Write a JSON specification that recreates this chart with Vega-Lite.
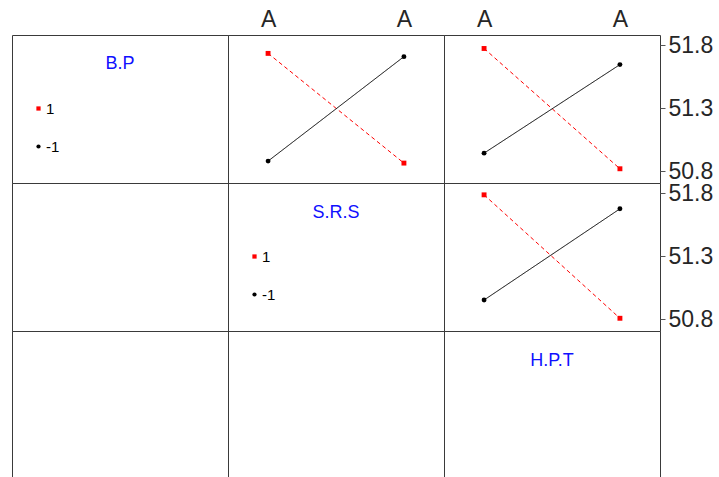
{
  "$schema": "https://vega.github.io/schema/vega-lite/v6.json",
  "padding": {"left": 11, "top": 7, "right": 0, "bottom": 0},
  "background": "white",
  "datasets": {
    "pts": [
      {"pair": "BP_SRS", "level": 1, "x": -1, "y": 51.734},
      {"pair": "BP_SRS", "level": 1, "x": 1, "y": 50.863},
      {"pair": "BP_SRS", "level": -1, "x": -1, "y": 50.879},
      {"pair": "BP_SRS", "level": -1, "x": 1, "y": 51.708},
      {"pair": "BP_HPT", "level": 1, "x": -1, "y": 51.773},
      {"pair": "BP_HPT", "level": 1, "x": 1, "y": 50.818},
      {"pair": "BP_HPT", "level": -1, "x": -1, "y": 50.942},
      {"pair": "BP_HPT", "level": -1, "x": 1, "y": 51.645},
      {"pair": "SRS_HPT", "level": 1, "x": -1, "y": 51.786},
      {"pair": "SRS_HPT", "level": 1, "x": 1, "y": 50.806},
      {"pair": "SRS_HPT", "level": -1, "x": -1, "y": 50.951},
      {"pair": "SRS_HPT", "level": -1, "x": 1, "y": 51.675}
    ]
  },
  "data": {"name": "pts"},
  "columns": 3,
  "spacing": 0,
  "bounds": "flush",
  "concat": [
    {
      "width": 216, "height": 148,
      "title": {"text": "B.P", "orient": "top", "anchor": "middle", "frame": "group", "baseline": "alphabetic", "offset": -35, "dy": 17, "fontSize": 18, "fontWeight": "normal", "color": "#1010ff", "font": "Liberation Sans"},
      "transform": [{"filter": "false"}],
      "mark": {"type": "point", "filled": true, "opacity": 1},
      "encoding": {
        "x": {"field": "x", "type": "quantitative", "scale": {"domain": [-1.59, 1.59]}, "axis": null},
        "y": {"field": "y", "type": "quantitative", "scale": {"domain": [50.705, 51.88], "zero": false, "nice": false}, "axis": null},
        "color": {"field": "level", "type": "nominal", "scale": {"domain": [1, -1], "range": ["#ff0000", "#000000"]}, "legend": {"orient": "none", "legendX": 19, "legendY": 66, "title": null, "labelFont": "Liberation Sans", "labelFontSize": 15, "labelOffset": 0, "rowPadding": 22}},
        "shape": {"field": "level", "type": "nominal", "scale": {"domain": [1, -1], "range": ["square", "circle"]}, "legend": {"orient": "none", "legendX": 19, "legendY": 66, "title": null, "labelFont": "Liberation Sans", "labelFontSize": 15, "labelOffset": 0, "rowPadding": 22}}
      }
    },
    {
      "width": 216, "height": 148,
      "transform": [{"filter": "datum.pair == 'BP_SRS'"}],
      "encoding": {
        "x": {"field": "x", "type": "quantitative", "scale": {"domain": [-1.59, 1.59]}, "axis": {"orient": "top", "values": [-1, 1], "labelExpr": "'A'", "ticks": false, "tickSize": 0, "labelPadding": 9, "labelBaseline": "alphabetic", "labelFlush": false, "title": null}},
        "y": {"field": "y", "type": "quantitative", "scale": {"domain": [50.705, 51.88], "zero": false, "nice": false}, "axis": null},
        "color": {"field": "level", "type": "nominal", "scale": {"domain": [1, -1], "range": ["#ff0000", "#000000"]}, "legend": null}
      },
      "layer": [
        {"mark": {"type": "line", "strokeWidth": 1}, "encoding": {"strokeDash": {"field": "level", "type": "nominal", "scale": {"domain": [1, -1], "range": [[4, 3], [1, 0]]}, "legend": null}}},
        {"mark": {"type": "point", "filled": true, "opacity": 1, "size": 24}, "encoding": {"shape": {"field": "level", "type": "nominal", "scale": {"domain": [1, -1], "range": ["square", "circle"]}, "legend": null}}}
      ]
    },
    {
      "width": 216, "height": 148,
      "transform": [{"filter": "datum.pair == 'BP_HPT'"}],
      "encoding": {
        "x": {"field": "x", "type": "quantitative", "scale": {"domain": [-1.59, 1.59]}, "axis": {"orient": "top", "values": [-1, 1], "labelExpr": "'A'", "ticks": false, "tickSize": 0, "labelPadding": 9, "labelBaseline": "alphabetic", "labelFlush": false, "title": null}},
        "y": {"field": "y", "type": "quantitative", "scale": {"domain": [50.705, 51.88], "zero": false, "nice": false}, "axis": {"orient": "right", "values": [50.8, 51.3, 51.8], "format": ".1f", "tickSize": 5, "labelPadding": 3, "title": null}},
        "color": {"field": "level", "type": "nominal", "scale": {"domain": [1, -1], "range": ["#ff0000", "#000000"]}, "legend": null}
      },
      "layer": [
        {"mark": {"type": "line", "strokeWidth": 1}, "encoding": {"strokeDash": {"field": "level", "type": "nominal", "scale": {"domain": [1, -1], "range": [[4, 3], [1, 0]]}, "legend": null}}},
        {"mark": {"type": "point", "filled": true, "opacity": 1, "size": 24}, "encoding": {"shape": {"field": "level", "type": "nominal", "scale": {"domain": [1, -1], "range": ["square", "circle"]}, "legend": null}}}
      ]
    },
    {
      "width": 216, "height": 148,
      "transform": [{"filter": "false"}],
      "mark": {"type": "point"},
      "encoding": {
        "x": {"field": "x", "type": "quantitative", "scale": {"domain": [-1.59, 1.59]}, "axis": null},
        "y": {"field": "y", "type": "quantitative", "scale": {"domain": [50.705, 51.88]}, "axis": null}
      }
    },
    {
      "width": 216, "height": 148,
      "title": {"text": "S.R.S", "orient": "top", "anchor": "middle", "frame": "group", "baseline": "alphabetic", "offset": -35, "dy": 18, "fontSize": 18, "fontWeight": "normal", "color": "#1010ff", "font": "Liberation Sans"},
      "transform": [{"filter": "false"}],
      "mark": {"type": "point", "filled": true, "opacity": 1},
      "encoding": {
        "x": {"field": "x", "type": "quantitative", "scale": {"domain": [-1.59, 1.59]}, "axis": null},
        "y": {"field": "y", "type": "quantitative", "scale": {"domain": [50.705, 51.88], "zero": false, "nice": false}, "axis": null},
        "color": {"field": "level", "type": "nominal", "scale": {"domain": [1, -1], "range": ["#ff0000", "#000000"]}, "legend": {"orient": "none", "legendX": 19, "legendY": 66, "title": null, "labelFont": "Liberation Sans", "labelFontSize": 15, "labelOffset": 0, "rowPadding": 22}},
        "shape": {"field": "level", "type": "nominal", "scale": {"domain": [1, -1], "range": ["square", "circle"]}, "legend": {"orient": "none", "legendX": 19, "legendY": 66, "title": null, "labelFont": "Liberation Sans", "labelFontSize": 15, "labelOffset": 0, "rowPadding": 22}}
      }
    },
    {
      "width": 216, "height": 148,
      "transform": [{"filter": "datum.pair == 'SRS_HPT'"}],
      "encoding": {
        "x": {"field": "x", "type": "quantitative", "scale": {"domain": [-1.59, 1.59]}, "axis": null},
        "y": {"field": "y", "type": "quantitative", "scale": {"domain": [50.705, 51.88], "zero": false, "nice": false}, "axis": {"orient": "right", "values": [50.8, 51.3, 51.8], "format": ".1f", "tickSize": 5, "labelPadding": 3, "title": null}},
        "color": {"field": "level", "type": "nominal", "scale": {"domain": [1, -1], "range": ["#ff0000", "#000000"]}, "legend": null}
      },
      "layer": [
        {"mark": {"type": "line", "strokeWidth": 1}, "encoding": {"strokeDash": {"field": "level", "type": "nominal", "scale": {"domain": [1, -1], "range": [[4, 3], [1, 0]]}, "legend": null}}},
        {"mark": {"type": "point", "filled": true, "opacity": 1, "size": 24}, "encoding": {"shape": {"field": "level", "type": "nominal", "scale": {"domain": [1, -1], "range": ["square", "circle"]}, "legend": null}}}
      ]
    },
    {
      "width": 216, "height": 148,
      "transform": [{"filter": "false"}],
      "mark": {"type": "point"},
      "encoding": {
        "x": {"field": "x", "type": "quantitative", "scale": {"domain": [-1.59, 1.59]}, "axis": null},
        "y": {"field": "y", "type": "quantitative", "scale": {"domain": [50.705, 51.88]}, "axis": null}
      }
    },
    {
      "width": 216, "height": 148,
      "transform": [{"filter": "false"}],
      "mark": {"type": "point"},
      "encoding": {
        "x": {"field": "x", "type": "quantitative", "scale": {"domain": [-1.59, 1.59]}, "axis": null},
        "y": {"field": "y", "type": "quantitative", "scale": {"domain": [50.705, 51.88]}, "axis": null}
      }
    },
    {
      "width": 216, "height": 148,
      "title": {"text": "H.P.T", "orient": "top", "anchor": "middle", "frame": "group", "baseline": "alphabetic", "offset": -35, "dy": 18, "fontSize": 18, "fontWeight": "normal", "color": "#1010ff", "font": "Liberation Sans"},
      "transform": [{"filter": "false"}],
      "mark": {"type": "point"},
      "encoding": {
        "x": {"field": "x", "type": "quantitative", "scale": {"domain": [-1.59, 1.59]}, "axis": null},
        "y": {"field": "y", "type": "quantitative", "scale": {"domain": [50.705, 51.88]}, "axis": null}
      }
    }
  ],
  "resolve": {
    "scale": {"x": "independent", "y": "independent", "color": "independent", "shape": "independent", "strokeDash": "independent"},
    "axis": {"x": "independent", "y": "independent"},
    "legend": {"color": "independent", "shape": "independent", "strokeDash": "independent"}
  },
  "config": {
    "font": "Liberation Sans",
    "view": {"stroke": "#3a3a3a", "strokeWidth": 1},
    "axis": {"grid": false, "domain": false, "labelFont": "Liberation Sans", "labelFontSize": 23, "labelColor": "#262626", "tickColor": "#555555"},
    "legend": {"labelFont": "Liberation Sans", "labelFontSize": 15, "labelColor": "#000000", "symbolSize": 18, "symbolStrokeWidth": 0, "labelOffset": 0, "rowPadding": 22, "padding": 0}
  }
}
